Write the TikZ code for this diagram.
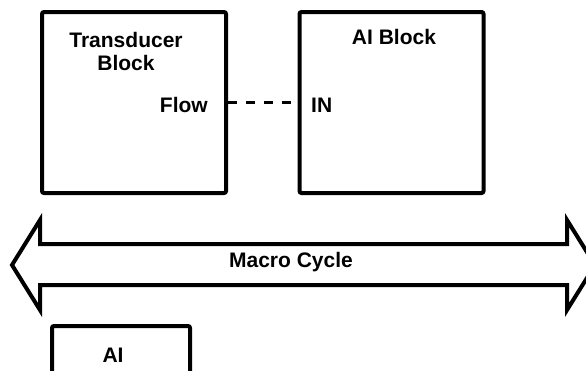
\documentclass[tikz,border=0pt]{standalone}
\usepackage{fontspec}
\setmainfont{Liberation Sans}
\begin{document}
\begin{tikzpicture}[x=1pt, y=-1pt,
  blk/.style={draw, line width=4pt, rounded corners=2pt, minimum width=184pt, minimum height=181pt},
  lbl/.style={font=\fontsize{21}{23}\selectfont\bfseries, inner sep=0pt, align=center},
  link/.style={dashed, line width=2.5pt, dash pattern=on 9pt off 9pt}
]
\useasboundingbox (0,0) rectangle (586,370);
\clip (0,0) rectangle (586,370);
\node[blk] (tb) at (134,102.5) {};
\node[blk] (ai) at (391.5,102.5) {};
\node[lbl] (tbname) at (126,51) {Transducer\\Block};
\node[lbl] (ainame) at (394,37) {AI Block};
\node[lbl, anchor=east] (flow) at (208,105) {Flow};
\node[lbl, anchor=west] (in) at (311,105) {IN};
\draw[link] (tb.east) -- (ai.west);
% macro cycle arrow
\draw[line width=4pt, line join=miter] (12,265) -- (40,220) -- (40,244) -- (567,244) -- (567,220)
  -- (595,265) -- (567,310) -- (567,285) -- (40,285) -- (40,310) -- cycle;
\node[lbl] (macro) at (291,262) {Macro Cycle};
% AI function block
\node[blk, minimum width=138pt, minimum height=60pt, anchor=north west] (aiexec) at (50,324) {};
\node[lbl] (ainote) at (113,355) {AI};
\end{tikzpicture}
\end{document}
